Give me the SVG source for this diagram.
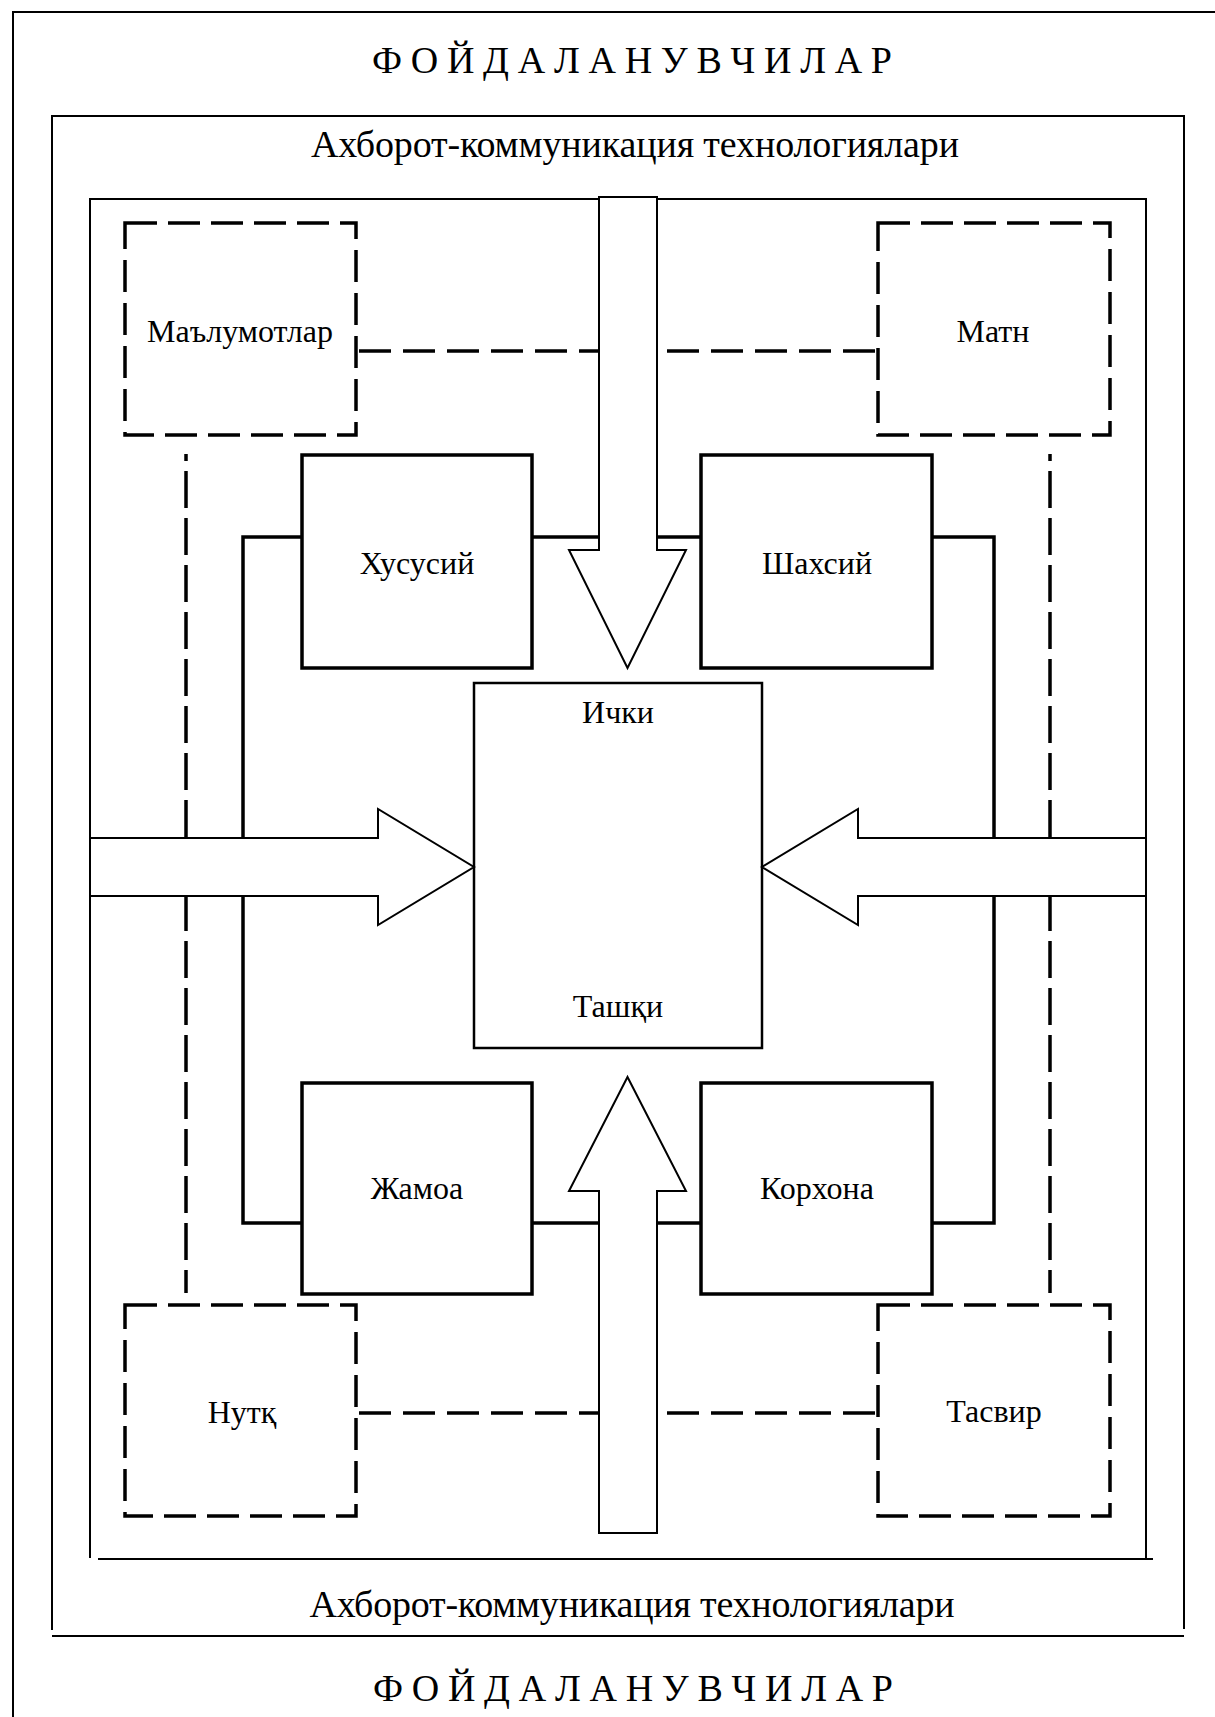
<svg xmlns="http://www.w3.org/2000/svg" width="1215" height="1717" viewBox="0 0 1215 1717">
<style>
  .frame{fill:none;stroke:#000;stroke-width:2}
  .box{fill:#fff;stroke:#000;stroke-width:3.5}
  .dbox{fill:none;stroke:#000;stroke-width:3.5;stroke-dasharray:32 11}
  .dline{fill:none;stroke:#000;stroke-width:3.5;stroke-dasharray:32 12}
  .vline{fill:none;stroke:#000;stroke-width:3.5;stroke-dasharray:37 10}
  .conn{fill:none;stroke:#000;stroke-width:3.5}
  .arrow{fill:#fff;stroke:#000;stroke-width:2;stroke-linejoin:miter}
  .lbl{font-family:"Liberation Serif","Times New Roman",serif;font-size:32px;fill:#000;text-anchor:middle}
  .big{font-family:"Liberation Serif","Times New Roman",serif;font-size:38px;fill:#000;text-anchor:middle}
</style>
<rect width="1215" height="1717" fill="#fff"/>
<g id="frames">
  <path class="frame" d="M13,1717 V12 H1215"/>
  <path class="frame" d="M52,1630 V116 H1184 V1629 M52,1636 H1184"/>
  <path class="frame" d="M90,1558 V199 H1146 V1558 M98,1559 H1153"/>
  <text class="big" x="632" y="73" textLength="520" lengthAdjust="spacing">Ф О Й Д А Л А Н У В Ч И Л А Р</text>
  <text class="big" x="635" y="157" textLength="648" lengthAdjust="spacing">Ахборот-коммуникация технологиялари</text>
  <text class="big" x="632" y="1617" textLength="645" lengthAdjust="spacing">Ахборот-коммуникация технологиялари</text>
  <text class="big" x="633" y="1701" textLength="520" lengthAdjust="spacing">Ф О Й Д А Л А Н У В Ч И Л А Р</text>
</g>
<g id="connectors">
  <line class="dline" x1="359" y1="351" x2="877" y2="351"/>
  <line class="dline" x1="359" y1="1413" x2="877" y2="1413"/>
  <line class="vline" x1="186" y1="454" x2="186" y2="1293" stroke-dashoffset="30"/>
  <line class="vline" x1="1050" y1="454" x2="1050" y2="1293" stroke-dashoffset="30"/>
  <path class="conn" d="M302,537 H243 V1223 H302"/>
  <path class="conn" d="M532,537 H701"/>
  <path class="conn" d="M532,1223 H701"/>
  <path class="conn" d="M932,537 H994 V1223 H932"/>
</g>
<g id="node-malumotlar">
  <rect class="dbox" x="125" y="223" width="231" height="212"/>
  <text class="lbl" x="240" y="342">Маълумотлар</text>
</g>
<g id="node-matn">
  <rect class="dbox" x="878" y="223" width="232" height="212"/>
  <text class="lbl" x="993" y="342">Матн</text>
</g>
<g id="node-nutq">
  <rect class="dbox" x="125" y="1305" width="231" height="211"/>
  <text class="lbl" x="242" y="1423">Нутқ</text>
</g>
<g id="node-tasvir">
  <rect class="dbox" x="878" y="1305" width="232" height="211"/>
  <text class="lbl" x="994" y="1422">Тасвир</text>
</g>
<g id="node-xususiy">
  <rect class="box" x="302" y="455" width="230" height="213"/>
  <text class="lbl" x="417" y="574">Хусусий</text>
</g>
<g id="node-shaxsiy">
  <rect class="box" x="701" y="455" width="231" height="213"/>
  <text class="lbl" x="817" y="574">Шахсий</text>
</g>
<g id="node-jamoa">
  <rect class="box" x="302" y="1083" width="230" height="211"/>
  <text class="lbl" x="417" y="1199">Жамоа</text>
</g>
<g id="node-korxona">
  <rect class="box" x="701" y="1083" width="231" height="211"/>
  <text class="lbl" x="817" y="1199">Корхона</text>
</g>
<g id="node-center">
  <rect x="474" y="683" width="288" height="365" fill="#fff" stroke="#000" stroke-width="2.5"/>
  <text class="lbl" x="618" y="723">Ички</text>
  <text class="lbl" x="618" y="1017">Ташқи</text>
</g>
<g id="arrows">
  <polygon class="arrow" points="599,197 657,197 657,550 686,550 627.5,668 569,550 599,550"/>
  <polygon class="arrow" points="599,1533 657,1533 657,1191 686,1191 627.5,1077 569,1191 599,1191"/>
  <polygon class="arrow" points="90,838 378,838 378,809 474,867 378,925 378,896 90,896"/>
  <polygon class="arrow" points="1146,838 858,838 858,809 762,867 858,925 858,896 1146,896"/>
</g>
</svg>
